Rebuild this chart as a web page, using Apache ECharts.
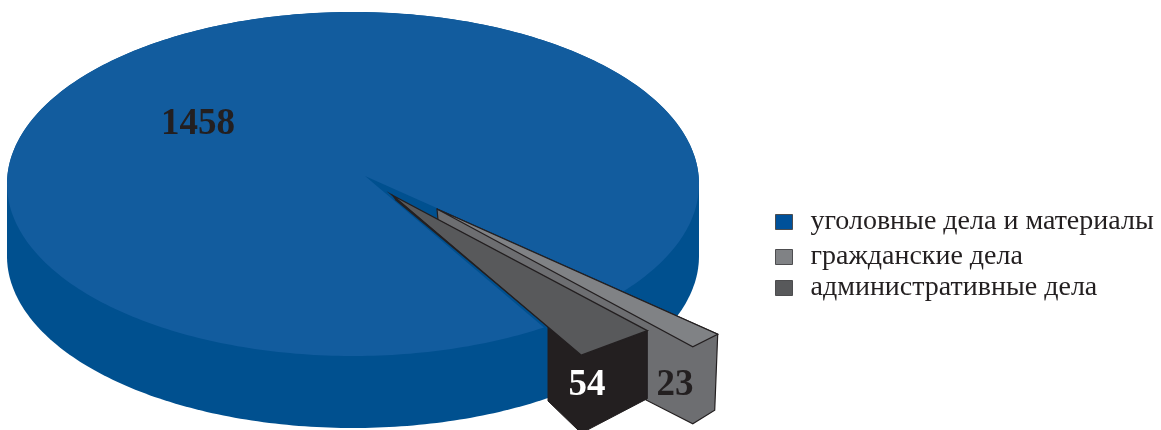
<!DOCTYPE html>
<html><head><meta charset="utf-8">
<style>html,body{margin:0;padding:0;background:#fff}#c{width:1161px;height:430px}</style>
<script src="https://cdn.jsdelivr.net/npm/echarts@6/dist/echarts.min.js"></script>
</head><body><div id="c"></div>
<script>
var categories = ['уголовные дела и материалы', 'гражданские дела', 'административные дела'];
var values = [1458, 23, 54];

var total = values.reduce(function (a, b) { return a + b; }, 0);
var DEG = Math.PI / 180;
var E = { cx: 353, cy: 184, rx: 346, ry: 172, depth: 72 };
var sweep = values.map(function (v) { return v / total * 360; });
var startGray = 41.9;
var grayEnd = startGray + sweep[1];
var startDark = 46.9;
var darkEnd = startDark + sweep[2];
var serif = '"Liberation Serif", serif';

function dir(a, r) { return [E.rx * r * Math.cos(a * DEG), E.ry * r * Math.sin(a * DEG)]; }
function along(p, a, r) { var d = dir(a, r); return [p[0] + d[0], p[1] + d[1]]; }
function ellipseAngleOfRay(p, a) {
  var d = dir(a, 1);
  var px = (p[0] - E.cx) / E.rx, py = (p[1] - E.cy) / E.ry, dx = d[0] / E.rx, dy = d[1] / E.ry;
  var A = dx * dx + dy * dy, B = 2 * (px * dx + py * dy), C = px * px + py * py - 1;
  var t = (-B + Math.sqrt(B * B - 4 * A * C)) / (2 * A);
  return Math.atan2(py + t * dy, px + t * dx) / DEG;
}
function poly(points, fill, stroke, lw) {
  return { type: 'polygon', shape: { points: points },
    style: { fill: fill, stroke: stroke || null, lineWidth: lw || 0, lineJoin: 'miter' } };
}
function label(text, x, y, fill) {
  return { type: 'text', style: { text: text, x: x, y: y, fill: fill, font: 'bold 37px ' + serif,
    align: 'center', verticalAlign: 'middle' } };
}

function renderBlue(params) {
  var hull = [], top = [], i;
  for (i = 0; i <= 180; i += 1) hull.push([E.cx + E.rx * Math.cos(i * DEG), E.cy + E.depth + E.ry * Math.sin(i * DEG)]);
  for (i = 180; i <= 360; i += 1) hull.push([E.cx + E.rx * Math.cos(i * DEG), E.cy + E.ry * Math.sin(i * DEG)]);
  var apex = [365, 176];
  var a0 = ellipseAngleOfRay(apex, darkEnd), a1 = ellipseAngleOfRay(apex, startGray + 360);
  while (a1 < a0) a1 += 360;
  top.push(apex);
  for (var a = a0; a < a1; a += 1) top.push([E.cx + E.rx * Math.cos(a * DEG), E.cy + E.ry * Math.sin(a * DEG)]);
  top.push([E.cx + E.rx * Math.cos(a1 * DEG), E.cy + E.ry * Math.sin(a1 * DEG)]);
  return { type: 'group', children: [
    poly(hull, '#00508f'),
    poly(top, '#125c9e'),
    label(String(values[0]), 198, 124, '#231f20')
  ] };
}

function renderGray() {
  var apexTop = [437, 209], apexLow = [438, 220], r = 1.09;
  var upper = along(apexTop, startGray, r), lower = along(apexTop, grayEnd, r);
  var h = 77, line = '#231f20';
  return { type: 'group', children: [
    poly([apexTop, upper, [upper[0] - 3, upper[1] + h - 1], [lower[0], lower[1] + h], [646, 400], [646, 331], apexLow], '#6d6e71', line, 1.2),
    poly([apexTop, upper, lower], '#808285', line, 1.2),
    label(String(values[1]), 675, 385, '#231f20')
  ] };
}

function renderDark() {
  var apex = [392, 195], r = 1.08, line = '#231f20';
  var upper = along(apex, startDark, r), lower = along(apex, darkEnd, r);
  var t = (548 - apex[0]) / (lower[0] - apex[0]);
  var cut = [548, apex[1] + t * (lower[1] - apex[1])];
  return { type: 'group', children: [
    poly([cut, lower, upper, [upper[0], upper[1] + 68], [lower[0], lower[1] + 78], [548, 401]], '#231f20', line, 1),
    poly([apex, upper, lower], '#58595b', line, 1.4),
    poly([[391, 193.5], cut, [395.5, 200.5]], '#231f20'),
    label(String(values[2]), 587, 385, '#ffffff')
  ] };
}

function series(i, color, fn) {
  return { type: 'custom', name: categories[i], coordinateSystem: 'none', silent: true,
    itemStyle: { color: color }, data: [{ name: categories[i], value: values[i] }], renderItem: fn };
}
function legend(i, top, color) {
  return { show: true, left: 770, top: top, icon: 'rect', itemWidth: 17, itemHeight: 15, selectedMode: false,
    data: [{ name: categories[i], itemStyle: { color: color, borderColor: '#4d4d4f', borderWidth: 1 } }],
    textStyle: { fontFamily: serif, fontSize: 28, color: '#231f20', padding: [0, 0, 0, 13] } };
}

var chart = echarts.init(document.getElementById('c'), null, { renderer: 'canvas' });
chart.setOption({
  animation: false,
  backgroundColor: '#ffffff',
  legend: [legend(0, 203, '#00519a'), legend(1, 238, '#808285'), legend(2, 269, '#58595b')],
  series: [series(0, '#00519a', renderBlue), series(1, '#808285', renderGray), series(2, '#58595b', renderDark)]
});
</script></body></html>
